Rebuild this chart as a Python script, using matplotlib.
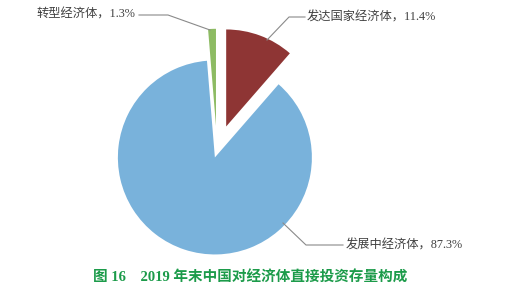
import matplotlib
matplotlib.use("Agg")
import matplotlib.pyplot as plt

plt.rcParams['font.family'] = ['Liberation Serif', 'Noto Sans CJK SC', 'DejaVu Sans']

categories = ["发达国家经济体", "发展中经济体", "转型经济体"]
values = [11.4, 87.3, 1.3]
colors = ["#8E3534", "#79B2DB", "#8DBB63"]
title = "图 16　2019 年末中国对经济体直接投资存量构成"

W, H = 531, 294
fig = plt.figure(figsize=(W / 100, H / 100), dpi=100)
ax = fig.add_axes([0, 0, 1, 1])

R = 97.0  # pixels per unit radius
cx, cy = 217.0, 294 - 151.0

explode = [0.27, 0.07, 0.26]
wedges, _ = ax.pie(values, colors=colors, startangle=90, counterclock=False,
                   explode=explode, radius=1.0, center=(0, 0),
                   wedgeprops=dict(linewidth=0))
ax.set_xlim(-cx / R, (W - cx) / R)
ax.set_ylim(-cy / R, (H - cy) / R)
ax.set_aspect('equal')
ax.axis('off')

def px(x, y):
    return ((x - cx) / R, (294 - y - cy) / R)

txtc = "#404040"
linec = "#8a8a8a"
labels = [f"{c}，{v}%" for c, v in zip(categories, values)]

# 发达国家经济体
ax.plot(*zip(px(267, 40), px(289, 17), px(305, 17)), color=linec, lw=0.8)
ax.text(*px(307, 17), labels[0], ha='left', va='center', fontsize=8.8, color=txtc)
# 发展中经济体
ax.plot(*zip(px(283, 223), px(306, 245), px(343, 245)), color=linec, lw=0.8)
ax.text(*px(346, 245), labels[1], ha='left', va='center', fontsize=8.8, color=txtc)
# 转型经济体
ax.plot(*zip(px(139, 15), px(168, 15), px(210, 30)), color=linec, lw=0.8)
ax.text(*px(135, 15), labels[2], ha='right', va='center', fontsize=8.8, color=txtc)

fig.text(250 / W, 1 - 278 / H, title, ha='center', va='center', fontsize=10.5,
         fontweight='bold', color="#1C9B4A")

fig.savefig("out.png", dpi=100)
